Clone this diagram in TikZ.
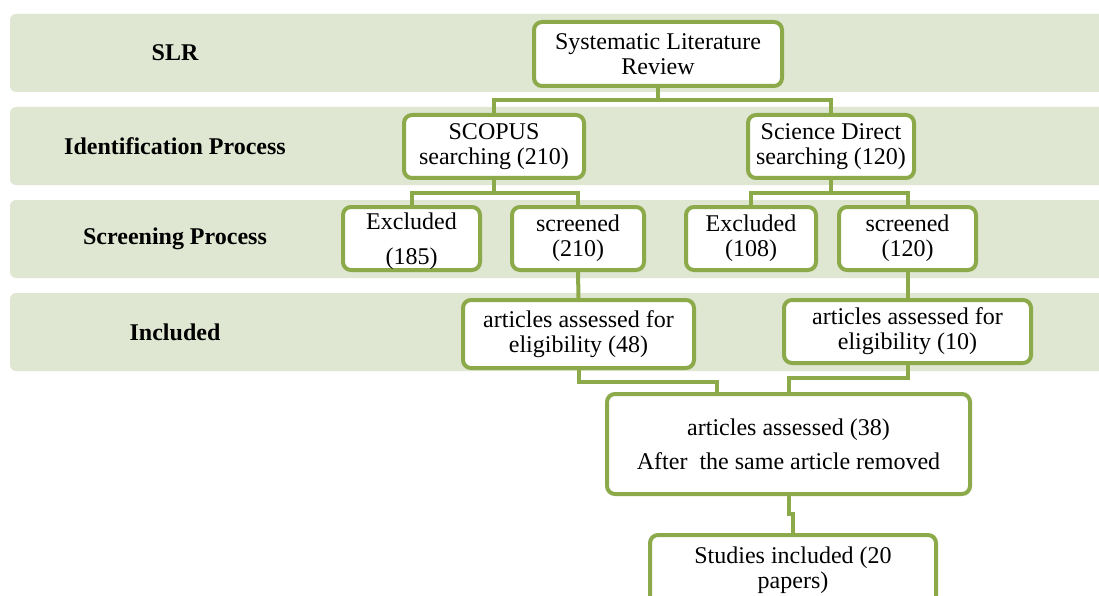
\documentclass[tikz,border=0pt]{standalone}
\usepackage{fontspec}
\setmainfont{Liberation Serif}
\usetikzlibrary{calc}
\definecolor{bandgreen}{HTML}{DFE7D2}
\definecolor{olive}{HTML}{8DAA4B}
\tikzset{
  band/.style = {fill=bandgreen, rounded corners=6pt},
  bandlabel/.style = {font=\fontsize{24}{25}\selectfont\bfseries, align=center},
  stepbox/.style = {
    draw=olive, fill=white, line width=4pt, rounded corners=8pt,
    align=center, inner sep=0pt
  },
  link/.style = {draw=olive, line width=4pt}
}

\begin{document}
\begin{tikzpicture}[x=1pt,y=-1pt,font=\fontsize{24}{25}\selectfont]
  \useasboundingbox (0,0) rectangle (1099,596);
  \clip (0,0) rectangle (1099,596);
  % bands
  \foreach \top/\name in {14/SLR,107/Identification Process,200/Screening Process,293/Included} {%
    \fill[band] (10,\top) rectangle (1120,{\top+78});
    \node[bandlabel] (lbl-\top) at (175,{\top+39}) {\name};
  }
  % boxes
  \node[stepbox,minimum width=248,minimum height=64] (slr) at (658,54) {Systematic Literature\\Review};
  \node[stepbox,minimum width=180,minimum height=63] (scopus) at (494,146.5) {SCOPUS\\searching (210)};
  \node[stepbox,minimum width=166,minimum height=63] (sd) at (831,146.5) {Science Direct\\searching (120)};
  \node[stepbox,minimum width=137,minimum height=63,text depth=-2pt] (exca) at (411.5,238.5) {Excluded\\[10pt](185)};
  \node[stepbox,minimum width=132,minimum height=63] (scra) at (578,238.5) {screened\\(210)};
  \node[stepbox,minimum width=130,minimum height=63] (excb) at (751,238.5) {Excluded\\(108)};
  \node[stepbox,minimum width=137,minimum height=63] (scrb) at (907.5,238.5) {screened\\(120)};
  \node[stepbox,minimum width=231,minimum height=68] (arta) at (578.5,334) {articles assessed for\\eligibility (48)};
  \node[stepbox,minimum width=247,minimum height=63] (artb) at (907.5,331.5) {articles assessed for\\eligibility (10)};
  \node[stepbox,minimum width=363,minimum height=100] (merged) at (788.5,444) {articles assessed (38)\\[9pt]After~ the same article removed};
  \node[stepbox,minimum width=286,minimum height=70] (studies) at (793,570) {Studies included (20\\papers)};
  \coordinate (joina) at ([xshift=-72pt]merged.north);
  % links
  \draw[link] (slr.south) -- ++(0,12) -| (scopus.north);
  \draw[link] (slr.south) -- ++(0,12) -| (sd.north);
  \draw[link] (scopus.south) -- ++(0,13) -| (exca.north);
  \draw[link] (scopus.south) -- ++(0,13) -| (scra.north);
  \draw[link] (sd.south) -- ++(0,13) -| (excb.north);
  \draw[link] (sd.south) -- ++(0,13) -| (scrb.north);
  \draw[link] (scra.south) -- (arta.north);
  \draw[link] (scrb.south) -- (artb.north);
  \draw[link] (arta.south) -- ++(0,12) -| (joina);
  \draw[link] (artb.south) -- ++(0,13) -| (merged.north);
  \draw[link] (merged.south) -- ++(0,18) -| (studies.north);
\end{tikzpicture}
\end{document}
